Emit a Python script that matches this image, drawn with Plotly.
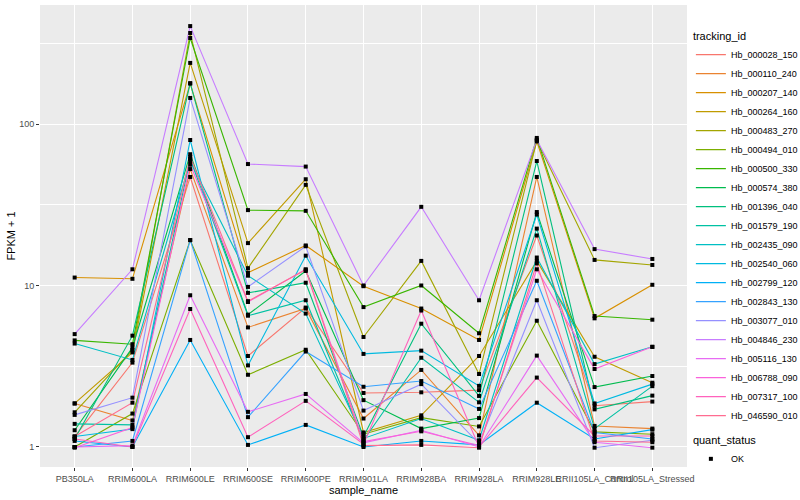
import plotly.graph_objects as go

samples = ["PB350LA", "RRIM600LA", "RRIM600LE", "RRIM600SE", "RRIM600PE", "RRIM901LA",
           "RRIM928BA", "RRIM928LA", "RRIM928LE", "RRII105LA_Control", "RRII105LA_Stressed"]

tracking_ids = ["Hb_000028_150", "Hb_000110_240", "Hb_000207_140", "Hb_000264_160", "Hb_000483_270",
                "Hb_000494_010", "Hb_000500_330", "Hb_000574_380", "Hb_001396_040", "Hb_001579_190",
                "Hb_002435_090", "Hb_002540_060", "Hb_002799_120", "Hb_002843_130", "Hb_003077_010",
                "Hb_004846_230", "Hb_005116_130", "Hb_006788_090", "Hb_007317_100", "Hb_046590_010"]

colors = ["#F8766D", "#EA8331", "#D89000", "#C09B00", "#A3A500", "#7CAE00", "#39B600", "#00BB4E",
          "#00BF7D", "#00C1A3", "#00BFC4", "#00BAE0", "#00B0F6", "#35A2FF", "#9590FF", "#C77CFF",
          "#E76BF3", "#FA62DB", "#FF62BC", "#FF6C91"]

# FPKM + 1 per sample, one list per tracking_id
Hb_000028_150 = [1.16, 3.33, 47, 3.66, 7.3, 2.16, 2.18, 2.25, 20.4, 1.80, 1.91]
Hb_000110_240 = [1.86, 1.46, 52.6, 5.5, 7.2, 1.50, 3.0, 1.18, 47, 1.35, 1.30]
Hb_000207_140 = [11.2, 11.0, 178, 12.0, 17.7, 9.9, 7.2, 4.6, 78, 6.26, 10.1]
Hb_000264_160 = [1.86, 3.85, 239, 18.3, 45.5, 1.23, 1.57, 3.66, 14.2, 3.62, 2.5]
Hb_000483_270 = [1.64, 3.99, 366, 12.8, 42, 4.8, 14.2, 2.83, 79, 14.4, 13.4]
Hb_000494_010 = [1.0, 1.61, 19.1, 2.8, 4.0, 1.20, 1.52, 1.34, 6.05, 1.24, 1.20]
Hb_000500_330 = [4.57, 4.33, 341, 29.3, 29, 7.35, 10, 5.06, 82, 6.47, 6.14]
Hb_000574_380 = [1.27, 4.12, 65, 6.6, 12.3, 1.95, 1.30, 1.51, 28.5, 2.35, 2.75]
Hb_001396_040 = [1.12, 4.89, 179, 9.0, 10.4, 1.16, 5.8, 2.07, 59, 1.71, 2.08]
Hb_001579_190 = [1.39, 1.37, 60.7, 6.5, 8.1, 1.10, 3.57, 1.89, 22.5, 1.30, 2.38]
Hb_002435_090 = [4.37, 3.46, 59, 11.5, 6.7, 1.13, 1.50, 1.1, 14.9, 3.26, 4.17]
Hb_002540_060 = [1.16, 1.29, 79.6, 3.2, 15.3, 3.77, 3.95, 2.39, 27.5, 1.86, 2.45]
Hb_002799_120 = [1.09, 1.0, 4.6, 1.03, 1.37, 1.0, 1.09, 1.03, 1.88, 1.12, 1.28]
Hb_002843_130 = [1.0, 1.09, 19.1, 1.53, 3.9, 2.36, 2.56, 1.72, 10.7, 1.23, 1.12]
Hb_003077_010 = [1.58, 2.02, 145, 9.8, 17.5, 1.68, 2.45, 1.05, 8.1, 0.99, 1.10]
Hb_004846_230 = [5.0, 12.6, 404, 56.5, 54.5, 10, 30.7, 8.1, 80, 16.8, 14.6]
Hb_005116_130 = [1.0, 1.02, 8.7, 1.65, 2.13, 1.06, 1.27, 1.0, 3.68, 1.07, 0.99]
Hb_006788_090 = [0.99, 1.32, 56, 7.9, 12.6, 1.08, 1.25, 1.02, 12.6, 3.04, 4.17]
Hb_007317_100 = [1.12, 1.0, 7.15, 1.15, 1.93, 1.04, 7.0, 1.0, 2.69, 1.17, 1.17]
Hb_046590_010 = [1.16, 1.88, 62.5, 8.0, 12.5, 1.02, 1.03, 0.99, 13.7, 1.09, 1.07]

series = [Hb_000028_150, Hb_000110_240, Hb_000207_140, Hb_000264_160, Hb_000483_270,
          Hb_000494_010, Hb_000500_330, Hb_000574_380, Hb_001396_040, Hb_001579_190,
          Hb_002435_090, Hb_002540_060, Hb_002799_120, Hb_002843_130, Hb_003077_010,
          Hb_004846_230, Hb_005116_130, Hb_006788_090, Hb_007317_100, Hb_046590_010]

y_ticks = [1, 10, 100]
y_minor = [10 ** 0.5, 10 ** 1.5, 10 ** 2.5]

FONT = "Liberation Sans, Arial, Helvetica, sans-serif"

fig = go.Figure()
for name, col, vals in zip(tracking_ids, colors, series):
    fig.add_trace(go.Scatter(x=samples, y=vals, mode="lines", name=name,
                             line=dict(color=col, width=1.1), legend="legend"))

all_x = [s for vals in series for s in samples]
all_y = [v for vals in series for v in vals]
fig.add_trace(go.Scatter(x=all_x, y=all_y, mode="markers", name="OK",
                         marker=dict(symbol="square", size=4, color="black"),
                         legend="legend2"))

fig.update_layout(
    width=800, height=500,
    margin=dict(l=40, r=113, t=5, b=33, autoexpand=False),
    paper_bgcolor="white", plot_bgcolor="#EBEBEB",
    font=dict(family=FONT, size=9, color="#4D4D4D"),
    showlegend=True,
    legend=dict(title=dict(text="tracking_id", font=dict(size=11, color="black")),
                x=1.006, xanchor="left", y=0.955, yanchor="top",
                font=dict(size=9, color="black"), tracegroupgap=0,
                bgcolor="rgba(0,0,0,0)", itemwidth=30),
    legend2=dict(title=dict(text="quant_status", font=dict(size=11, color="black")),
                 x=1.006, xanchor="left", y=0.08, yanchor="top",
                 font=dict(size=9, color="black"), bgcolor="rgba(0,0,0,0)", itemwidth=30),
    xaxis=dict(type="category", categoryorder="array", categoryarray=samples,
               range=[-0.6, len(samples) - 0.4], showgrid=True, gridcolor="white", gridwidth=1.1,
               zeroline=False, ticks="outside", ticklen=3, tickcolor="#333333", tickwidth=1,
               tickangle=0, tickfont=dict(size=9, color="#4D4D4D"),
               title=dict(text="sample_name", font=dict(size=11, color="black"), standoff=1),
               automargin=False, showline=False),
    yaxis=dict(type="log", range=[-0.124, 2.737], tickmode="array", tickvals=y_ticks,
               ticktext=[str(t) for t in y_ticks], showgrid=True, gridcolor="white", gridwidth=1.1,
               zeroline=False, ticks="outside", ticklen=3, tickcolor="#333333", tickwidth=1,
               tickfont=dict(size=9, color="#4D4D4D"),
               minor=dict(tickmode="array", tickvals=y_minor, showgrid=True,
                          gridcolor="white", gridwidth=0.55, ticks=""),
               title=dict(text="FPKM + 1", font=dict(size=11, color="black"), standoff=1),
               automargin=False, showline=False),
)

fig.write_html("out.html", config={"displayModeBar": False},
               post_script="document.body.style.margin='0';")
